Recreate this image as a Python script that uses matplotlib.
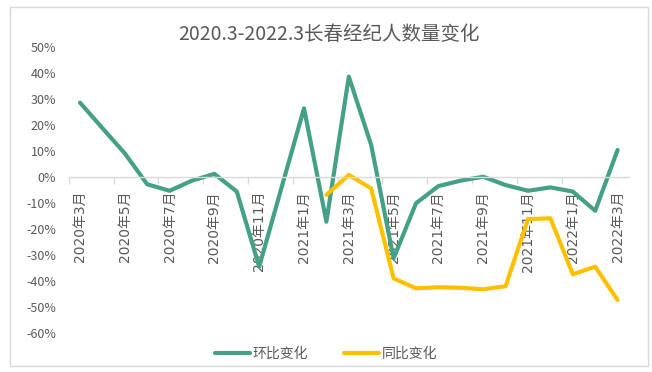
import matplotlib
matplotlib.use("Agg")
import matplotlib.pyplot as plt
import numpy as np
from matplotlib.patches import Rectangle
from matplotlib.ticker import FuncFormatter

plt.rcParams['font.family'] = ['Noto Sans CJK SC', 'DejaVu Sans']

# 月份
months = []
for y, m in [(2020, m) for m in range(3, 13)] + [(2021, m) for m in range(1, 13)] + [(2022, m) for m in range(1, 4)]:
    months.append(f'{y}年{m}月')

# 环比变化 (%)
mom = [28.6, 18.8, 9.1, -2.8, -5.3, -1.4, 1.2, -5.6, -34.5, -4.0, 26.4, -17.2,
       38.6, 12.3, -31.3, -10.1, -3.5, -1.4, 0.1, -3.1, -5.3, -4.0, -5.6, -13.0, 10.4]
# 同比变化 (%)
yoy = [np.nan] * 11 + [-6.9, 0.8, -4.4, -39.0, -42.8, -42.4, -42.6, -43.2, -42.0,
                       -16.2, -15.9, -37.4, -34.5, -47.3]

green = '#44A086'
orange = '#FFC000'
grey = '#595959'

fig = plt.figure(figsize=(6.52, 3.72), dpi=100)
ax = fig.add_axes([68.8 / 652, 1 - 333 / 372, 560 / 652, 286 / 372])

x = np.arange(len(months))
ax.plot(x, mom, color=green, lw=3, solid_joinstyle='round', solid_capstyle='round', label='环比变化')
ax.plot(x, yoy, color=orange, lw=3, solid_joinstyle='round', solid_capstyle='round', label='同比变化')

ax.set_xlim(-0.5, len(months) - 0.5)
ax.set_ylim(-60, 50)
ax.set_yticks(np.arange(-60, 51, 10))
ax.yaxis.set_major_formatter(FuncFormatter(lambda v, p: f'{v:.0f}%'))

# x轴放在0处
for s in ['top', 'right', 'left']:
    ax.spines[s].set_visible(False)
ax.spines['bottom'].set_position(('data', 0))
ax.spines['bottom'].set_color('#D9D9D9')
ax.spines['bottom'].set_linewidth(1)

ax.set_xticks(x[::2])
ax.set_xticklabels(months[::2], rotation=90, fontsize=10, color=grey,
                   family=['DejaVu Sans', 'Noto Sans CJK SC'])
ax.set_xticks(np.arange(-0.5, len(months), 2), minor=True)
ax.tick_params(axis='x', which='major', length=0, pad=10)
ax.tick_params(axis='x', which='minor', length=5, color='#D9D9D9', width=1)
ax.tick_params(axis='y', length=0, labelsize=9, labelcolor=grey, pad=9)

fig.text(0.505, 1 - 35 / 372, '2020.3-2022.3长春经纪人数量变化', ha='center', va='center',
         fontsize=14, color=grey)

fig.legend(loc='center', bbox_to_anchor=(0.5, 1 - 354 / 372), ncol=2, frameon=False,
           fontsize=10, handlelength=2.5, handletextpad=0.2, columnspacing=2.6,
           labelcolor=grey)

# 外边框
fig.patches.append(Rectangle((10 / 652, 1 - 366 / 372), 638 / 652, 359 / 372,
                             transform=fig.transFigure, fill=False, edgecolor='#D9D9D9', lw=1))

fig.savefig('out.png', dpi=100)
